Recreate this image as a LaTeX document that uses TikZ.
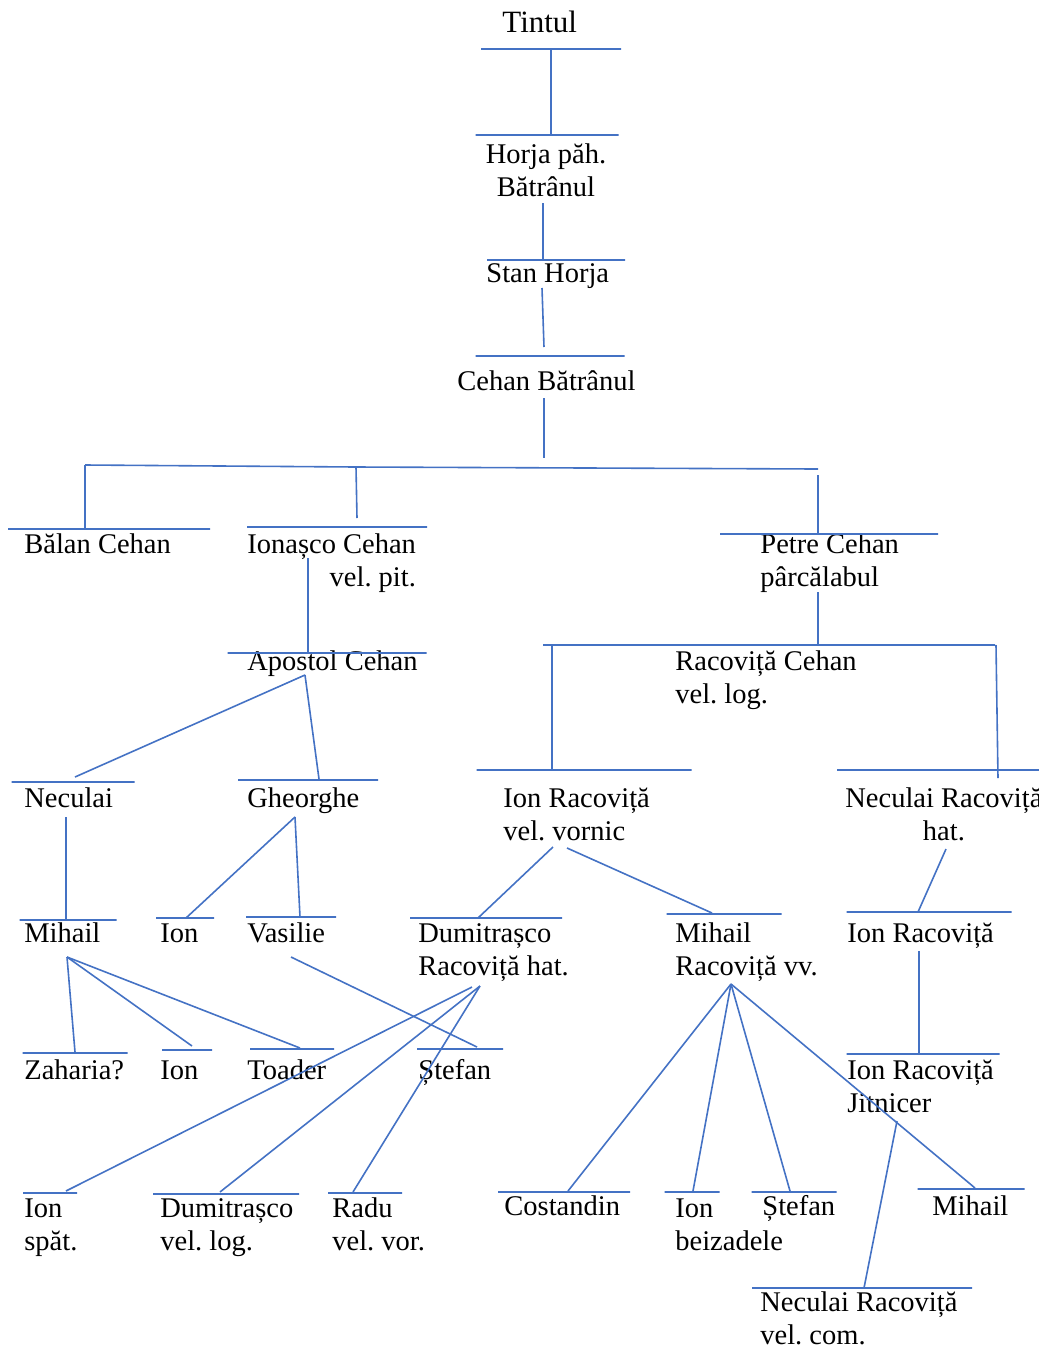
\documentclass[tikz,border=0pt]{standalone}
\usepackage{fontspec}
\setmainfont{Liberation Serif}
\usepackage{tikz}
\definecolor{treeblue}{RGB}{68, 114, 196}
\frenchspacing

\begin{document}
\begin{tikzpicture}[
    x=0.5pt, y=-0.5pt,
    person/.style={anchor=base west, inner sep=0pt, align=left, font=\fontsize{14.25}{16.5}\selectfont},
    bar/.style={rectangle, draw=treeblue, line width=0.8pt, inner sep=0pt, minimum height=0pt, minimum width=#1*0.5pt},
    link/.style={treeblue, line width=0.8pt}
]
    \useasboundingbox (0,0) rectangle (1039,1350);

    % Ancestors (multi-line names sit on the baseline of their last line)
    \node[person, font=\fontsize{15.5}{18}\selectfont] (tintul) at (502,32) {Tintul};
    \node[bar=140] (tintul-bar) at (551,49) {};
    \node[person, anchor=base, align=center] (horja) at (546,196) {Horja păh.\\Bătrânul};
    \node[bar=143] (horja-bar) at (547,135) {};
    \node[person] (stan) at (486,282) {Stan Horja};
    \node[bar=138] (stan-bar) at (556,260) {};
    \node[person] (cehan) at (457,390) {Cehan Bătrânul};
    \node[bar=149] (cehan-bar) at (550,356) {};

    % Sons of Cehan
    \node[person] (balan) at (24,553) {Bălan Cehan};
    \node[bar=202] (balan-bar) at (109,529) {};
    \node[person, align=right] (ionasco) at (247,586) {Ionașco Cehan\\vel. pit.};
    \node[bar=180] (ionasco-bar) at (337,527) {};
    \node[person] (petre) at (760,586) {Petre Cehan\\pârcălabul};
    \node[bar=218] (petre-bar) at (829,534) {};

    % Grandsons
    \node[person] (apostol) at (247,670) {Apostol Cehan};
    \node[bar=199] (apostol-bar) at (327,653) {};
    \node[person] (racovita) at (675,703) {Racoviță Cehan\\vel. log.};
    \node[bar=452] (racovita-bar) at (769,645) {};

    % Next generation
    \node[person] (neculai) at (24,807) {Neculai};
    \node[bar=123] (neculai-bar) at (73,782) {};
    \node[person] (gheorghe) at (247,807) {Gheorghe};
    \node[bar=140] (gheorghe-bar) at (308,780) {};
    \node[person] (ionvornic) at (503,840) {Ion Racoviță\\vel. vornic};
    \node[bar=215] (ionvornic-bar) at (584,770) {};
    \node[person, align=center] (neculaihat) at (845,840) {Neculai Racoviță\\hat.};
    \node[bar=202] (neculaihat-bar) at (938,770) {};

    \node[person] (mihail) at (24,942) {Mihail};
    \node[bar=97] (mihail-bar) at (68,920) {};
    \node[person] (iong) at (160,942) {Ion};
    \node[bar=58] (iong-bar) at (185,918) {};
    \node[person] (vasilie) at (247,942) {Vasilie};
    \node[bar=90] (vasilie-bar) at (291,917) {};
    \node[person] (dumitrascohat) at (418,975) {Dumitrașco\\Racoviță hat.};
    \node[bar=152] (dumitrascohat-bar) at (486,918) {};
    \node[person] (mihailvv) at (675,975) {Mihail\\Racoviță vv.};
    \node[bar=115] (mihailvv-bar) at (724,914) {};
    \node[person] (ionr) at (847,942) {Ion Racoviță};
    \node[bar=165] (ionr-bar) at (929,912) {};

    \node[person] (zaharia) at (24,1079) {Zaharia?};
    \node[bar=105] (zaharia-bar) at (75,1053) {};
    \node[person] (ionm) at (160,1079) {Ion};
    \node[bar=50] (ionm-bar) at (187,1050) {};
    \node[person] (toader) at (247,1079) {Toader};
    \node[bar=84] (toader-bar) at (292,1049) {};
    \node[person] (stefanv) at (418,1079) {Ștefan};
    \node[bar=86] (stefanv-bar) at (460,1049) {};
    \node[person] (jitnicer) at (847,1112) {Ion Racoviță\\Jitnicer};
    \node[bar=153] (jitnicer-bar) at (923,1054) {};

    % Last generation
    \node[person] (ionspat) at (24,1250) {Ion\\spăt.};
    \node[bar=54] (ionspat-bar) at (50,1193) {};
    \node[person] (dumitrascolog) at (160,1250) {Dumitrașco\\vel. log.};
    \node[bar=146] (dumitrascolog-bar) at (226,1194) {};
    \node[person] (radu) at (332,1250) {Radu\\vel. vor.};
    \node[bar=74] (radu-bar) at (365,1193) {};
    \node[person] (costandin) at (504,1215) {Costandin};
    \node[bar=132] (costandin-bar) at (564,1192) {};
    \node[person] (ionbeiz) at (675,1250) {Ion\\beizadele};
    \node[bar=55] (ionbeiz-bar) at (692,1192) {};
    \node[person] (stefanm) at (762,1215) {Ștefan};
    \node[bar=85] (stefanm-bar) at (794,1192) {};
    \node[person] (mihailm) at (932,1215) {Mihail};
    \node[bar=107] (mihailm-bar) at (971,1189) {};
    \node[person] (neculaicom) at (760,1344) {Neculai Racoviță\\vel. com.};
    \node[bar=220] (neculaicom-bar) at (862,1288) {};

    % Link points
    \coordinate (horja-out) at (543,203);
    \coordinate (stan-out) at (542,288);
    \coordinate (cehan-in) at (544,347);
    \coordinate (cehan-out) at (544,398);
    \coordinate (cehan-end) at (544,458);
    \coordinate (fork-l) at (85,465);
    \coordinate (fork-m) at (356,467);
    \coordinate (fork-r) at (818,469);
    \coordinate (ionasco-in) at (357,518);
    \coordinate (petre-in) at (818,475);
    \coordinate (ionasco-out) at (308,558);
    \coordinate (petre-out) at (818,592);
    \coordinate (racovita-l) at (552,646);
    \coordinate (racovita-r) at (996,645);
    \coordinate (neculaihat-in) at (998,778);
    \coordinate (apostol-out) at (305,675);
    \coordinate (neculai-out) at (66,817);
    \coordinate (gheorghe-out) at (295,817);
    \coordinate (ionvornic-out1) at (553,847);
    \coordinate (ionvornic-out2) at (567,848);
    \coordinate (neculaihat-out) at (946,849);
    \coordinate (mihail-out) at (67,957);
    \coordinate (vasilie-out) at (291,957);
    \coordinate (ionr-out) at (919,951);
    \coordinate (dumitrascohat-out1) at (472,987);
    \coordinate (dumitrascohat-out2) at (480,986);
    \coordinate (mihailvv-out) at (731,984);
    \coordinate (jitnicer-out) at (897,1121);

    \coordinate (neculai-in) at (75,777);
    \coordinate (gheorghe-in) at (319,779);
    \coordinate (iong-in) at (186,918);
    \coordinate (vasilie-in) at (300,917);
    \coordinate (dumitrascohat-in) at (478,918);
    \coordinate (mihailvv-in) at (712,913);
    \coordinate (ionr-in) at (918,912);
    \coordinate (zaharia-in) at (75,1052);
    \coordinate (ionm-in) at (192,1046);
    \coordinate (toader-in) at (300,1048);
    \coordinate (stefanv-in) at (477,1047);
    \coordinate (ionspat-in) at (66,1191);
    \coordinate (dumitrascolog-in) at (220,1192);
    \coordinate (radu-in) at (353,1192);
    \coordinate (costandin-in) at (568,1191);
    \coordinate (ionbeiz-in) at (693,1191);
    \coordinate (stefanm-in) at (790,1191);
    \coordinate (mihailm-in) at (975,1188);
    \coordinate (neculaicom-in) at (864,1288);

    % Links
    \draw[link] (tintul-bar) -- (tintul-bar |- horja-bar);
    \draw[link] (horja-out) -- (horja-out |- stan-bar);
    \draw[link] (stan-out) -- (cehan-in);
    \draw[link] (cehan-out) -- (cehan-end);
    \draw[link] (fork-l) -- (fork-m) -- (fork-r);
    \draw[link] (fork-l) -- (fork-l |- balan-bar);
    \draw[link] (fork-m) -- (ionasco-in);
    \draw[link] (petre-in) -- (petre-in |- petre-bar);
    \draw[link] (ionasco-out) -- (ionasco-out |- apostol-bar);
    \draw[link] (petre-out) -- (petre-out |- racovita-bar);
    \draw[link] (racovita-l) -- (racovita-l |- ionvornic-bar);
    \draw[link] (racovita-r) -- (neculaihat-in);

    \draw[link] (apostol-out) -- (neculai-in);
    \draw[link] (apostol-out) -- (gheorghe-in);
    \draw[link] (neculai-out) -- (neculai-out |- mihail-bar);
    \draw[link] (gheorghe-out) -- (iong-in);
    \draw[link] (gheorghe-out) -- (vasilie-in);
    \draw[link] (ionvornic-out1) -- (dumitrascohat-in);
    \draw[link] (ionvornic-out2) -- (mihailvv-in);
    \draw[link] (neculaihat-out) -- (ionr-in);

    \draw[link] (mihail-out) -- (zaharia-in);
    \draw[link] (mihail-out) -- (ionm-in);
    \draw[link] (mihail-out) -- (toader-in);
    \draw[link] (vasilie-out) -- (stefanv-in);
    \draw[link] (ionr-out) -- (ionr-out |- jitnicer-bar);

    \draw[link] (dumitrascohat-out1) -- (ionspat-in);
    \draw[link] (dumitrascohat-out2) -- (dumitrascolog-in);
    \draw[link] (dumitrascohat-out2) -- (radu-in);
    \draw[link] (mihailvv-out) -- (costandin-in);
    \draw[link] (mihailvv-out) -- (ionbeiz-in);
    \draw[link] (mihailvv-out) -- (stefanm-in);
    \draw[link] (mihailvv-out) -- (mihailm-in);
    \draw[link] (jitnicer-out) -- (neculaicom-in);
\end{tikzpicture}
\end{document}
